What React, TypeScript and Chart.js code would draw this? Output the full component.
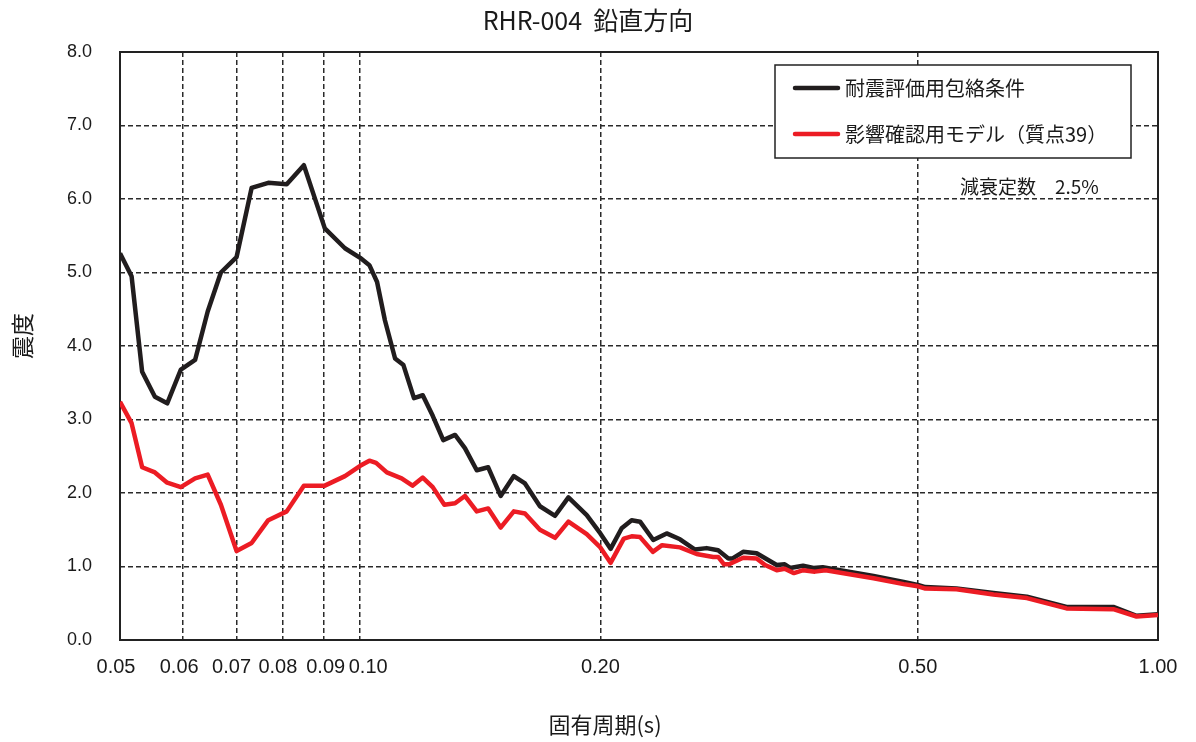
import { useEffect, useRef } from "react";
import { Chart, registerables } from "chart.js";

Chart.register(...registerables);

const chartTitle = "RHR-004  鉛直方向";
const xAxisTitle = "固有周期(s)";
const yAxisTitle = "震度";
const seriesNames = ["耐震評価用包絡条件", "影響確認用モデル（質点39）"];
const dampingNote = "減衰定数　2.5%";

const xTickValues = [0.05, 0.06, 0.07, 0.08, 0.09, 0.1, 0.2, 0.5, 1.0];
const yTickValues = [0, 1, 2, 3, 4, 5, 6, 7, 8];

const envelopePeriods = [
  0.05, 0.0517, 0.0533, 0.0553, 0.0573, 0.0596, 0.0621, 0.0644, 0.0669, 0.07,
  0.0731, 0.0767, 0.0809, 0.085, 0.0903, 0.0957, 0.1, 0.1027, 0.105, 0.1074,
  0.1106, 0.1133, 0.1168, 0.1198, 0.1233, 0.1271, 0.1315, 0.1353, 0.14, 0.1447,
  0.15, 0.1558, 0.1609, 0.168, 0.1755, 0.1824, 0.1923, 0.2, 0.206, 0.2127,
  0.2189, 0.2243, 0.233, 0.2422, 0.2517, 0.2628, 0.2718, 0.281, 0.2894, 0.293,
  0.302, 0.314, 0.3327, 0.3405, 0.3458, 0.359, 0.37, 0.38, 0.44, 0.48,
  0.5, 0.511, 0.559, 0.622, 0.685, 0.768, 0.879, 0.94, 1.0,
];
const envelopeValues = [
  5.26, 4.95, 3.65, 3.31, 3.22, 3.68, 3.81, 4.47, 5.0, 5.21,
  6.15, 6.22, 6.2, 6.46, 5.6, 5.33, 5.2, 5.1, 4.87, 4.35,
  3.83, 3.74, 3.29, 3.33, 3.05, 2.72, 2.79, 2.61, 2.31, 2.35,
  1.96, 2.23, 2.13, 1.82, 1.69, 1.94, 1.7, 1.45, 1.24, 1.52,
  1.63, 1.61, 1.36, 1.45, 1.37, 1.23, 1.25, 1.22, 1.11, 1.11,
  1.2, 1.18, 1.02, 1.03, 0.98, 1.01, 0.98, 0.99, 0.87, 0.79,
  0.75, 0.72, 0.7, 0.64, 0.59, 0.45, 0.45, 0.33, 0.35,
];

const modelPeriods = [
  0.05, 0.0517, 0.0533, 0.0553, 0.0573, 0.0596, 0.0621, 0.0644, 0.0669, 0.07,
  0.0731, 0.0767, 0.0809, 0.085, 0.0903, 0.0957, 0.1, 0.1027, 0.1047, 0.108,
  0.1127, 0.1163, 0.1198, 0.1233, 0.1275, 0.1315, 0.1353, 0.14, 0.1447, 0.15,
  0.1558, 0.1609, 0.168, 0.1755, 0.1824, 0.1923, 0.2, 0.206, 0.214, 0.2189,
  0.2243, 0.2327, 0.239, 0.2517, 0.264, 0.277, 0.281, 0.2858, 0.29, 0.302,
  0.314, 0.3217, 0.3327, 0.3405, 0.3497, 0.3592, 0.3715, 0.3832, 0.44, 0.48,
  0.5, 0.511, 0.559, 0.622, 0.685, 0.768, 0.879, 0.94, 1.0,
];
const modelValues = [
  3.24, 2.95, 2.35, 2.28, 2.14, 2.08, 2.2, 2.25, 1.84, 1.21,
  1.32, 1.63, 1.75, 2.1, 2.1, 2.23, 2.37, 2.44, 2.41, 2.28,
  2.2, 2.1, 2.21, 2.08, 1.84, 1.86, 1.96, 1.75, 1.79, 1.53,
  1.75, 1.72, 1.5, 1.39, 1.61, 1.44, 1.26, 1.05, 1.38, 1.41,
  1.4, 1.2, 1.29, 1.26, 1.17, 1.13, 1.13, 1.03, 1.03, 1.12,
  1.11, 1.02, 0.95, 0.97, 0.91, 0.95, 0.93, 0.95, 0.84, 0.76,
  0.73, 0.7, 0.69, 0.62, 0.57, 0.43, 0.42, 0.32, 0.34,
];

const BLACK = "#211d1e";
const RED = "#ec1c24";
const TEXT = "#1a1a1a";
const JP = "'Noto Sans CJK JP', sans-serif";
const NUM = "'Liberation Sans', Arial, sans-serif";

// small horizontal nudges so crowded period labels do not collide (as in the original)
const xLabelNudge: Record<string, number> = {
  "0.05": -4, "0.06": -4, "0.07": -5, "0.08": -5, "0.09": 2, "0.10": 8,
};

const decorPlugin = {
  id: "decor",
  beforeDatasetsDraw(chart: any) {
    const { ctx, chartArea } = chart;
    ctx.save();
    ctx.strokeStyle = "#222";
    ctx.lineWidth = 2;
    ctx.setLineDash([]);
    ctx.strokeRect(chartArea.left, chartArea.top, chartArea.right - chartArea.left, chartArea.bottom - chartArea.top);
    ctx.restore();
  },
  afterDraw(chart: any) {
    const { ctx, chartArea } = chart;
    const xScale = chart.scales.x;
    ctx.save();
    ctx.fillStyle = TEXT;
    // x tick labels, positioned by the log scale
    ctx.font = `20px ${NUM}`;
    ctx.textAlign = "center";
    ctx.textBaseline = "middle";
    xTickValues.forEach((v) => {
      const label = v.toFixed(2);
      const px = xScale.getPixelForValue(v) + (xLabelNudge[label] || 0);
      ctx.fillText(label, px, chartArea.bottom + 27);
    });
    // title
    ctx.font = `25px ${JP}`;
    ctx.fillText(chartTitle, 588, 20);
    // x title
    ctx.font = `22px ${JP}`;
    ctx.fillText(xAxisTitle, 605, 725);
    // y title
    ctx.save();
    ctx.translate(22, 336);
    ctx.rotate(-Math.PI / 2);
    ctx.font = `23px ${JP}`;
    ctx.fillText(yAxisTitle, 0, 0);
    ctx.restore();
    // legend box
    ctx.fillStyle = "#ffffff";
    ctx.fillRect(775, 65, 356, 93);
    ctx.strokeStyle = "#222";
    ctx.lineWidth = 1.5;
    ctx.setLineDash([]);
    ctx.strokeRect(775, 65, 356, 93);
    const rows = [
      { y: 88, color: BLACK, text: seriesNames[0] },
      { y: 134, color: RED, text: seriesNames[1] },
    ];
    rows.forEach((r) => {
      ctx.strokeStyle = r.color;
      ctx.lineWidth = 4.5;
      ctx.lineCap = "round";
      ctx.beginPath();
      ctx.moveTo(795, r.y);
      ctx.lineTo(838, r.y);
      ctx.stroke();
      ctx.fillStyle = TEXT;
      ctx.font = `20px ${JP}`;
      ctx.textAlign = "left";
      ctx.textBaseline = "middle";
      ctx.fillText(r.text, 845, r.y);
    });
    // damping note
    ctx.font = `19px ${JP}`;
    ctx.textAlign = "left";
    ctx.fillText(dampingNote, 960, 187);
    ctx.restore();
  },
};

export default function App() {
  const ref = useRef<HTMLCanvasElement | null>(null);

  useEffect(() => {
    document.body.style.margin = "0";
    const canvas = ref.current;
    if (!canvas) return;
    const gridColor = (ctx: any, ends: number[]) =>
      ends.includes(ctx.tick?.value) ? "rgba(0,0,0,0)" : "#2a2a2a";

    const chart = new Chart(canvas, {
      type: "line",
      data: {
        datasets: [
          {
            label: seriesNames[0],
            data: envelopePeriods.map((p, i) => ({ x: p, y: envelopeValues[i] })),
            borderColor: BLACK,
            backgroundColor: BLACK,
            borderWidth: 4.5,
            pointRadius: 0,
            tension: 0,
            order: 2,
            borderJoinStyle: "round",
          },
          {
            label: seriesNames[1],
            data: modelPeriods.map((p, i) => ({ x: p, y: modelValues[i] })),
            borderColor: RED,
            backgroundColor: RED,
            borderWidth: 4.5,
            pointRadius: 0,
            tension: 0,
            order: 1,
            borderJoinStyle: "round",
          },
        ],
      },
      options: {
        responsive: false,
        animation: false,
        devicePixelRatio: 1,
        layout: { padding: { top: 52, right: 38, left: 0, bottom: 0 } },
        plugins: {
          legend: { display: false },
          title: { display: false },
          tooltip: { enabled: false },
        },
        scales: {
          x: {
            type: "logarithmic",
            min: 0.05,
            max: 1.0,
            afterBuildTicks: (scale: any) => {
              scale.ticks = xTickValues.map((v) => ({ value: v }));
            },
            afterFit: (scale: any) => {
              scale.height = 102;
            },
            ticks: {
              display: false,
              autoSkip: false,
              maxRotation: 0,
              minRotation: 0,
            },
            grid: {
              drawTicks: false,
              lineWidth: 1.5,
              color: (ctx: any) => gridColor(ctx, [0.05, 1.0]),
            },
            border: { display: false, dash: [5, 3] },
          },
          y: {
            type: "linear",
            min: 0,
            max: 8,
            afterBuildTicks: (scale: any) => {
              scale.ticks = yTickValues.map((v) => ({ value: v }));
            },
            afterFit: (scale: any) => {
              scale.width = 120;
            },
            ticks: {
              padding: 28,
              color: TEXT,
              font: { family: NUM, size: 18 },
              callback: (v: any) => Number(v).toFixed(1),
            },
            grid: {
              drawTicks: false,
              lineWidth: 1.5,
              color: (ctx: any) => gridColor(ctx, [0, 8]),
            },
            border: { display: false, dash: [5, 3] },
          },
        },
      },
      plugins: [decorPlugin],
    } as any);

    return () => chart.destroy();
  }, []);

  return (
    <div style={{ width: 1196, height: 742, background: "#fff" }}>
      <canvas ref={ref} width={1196} height={742} />
    </div>
  );
}
